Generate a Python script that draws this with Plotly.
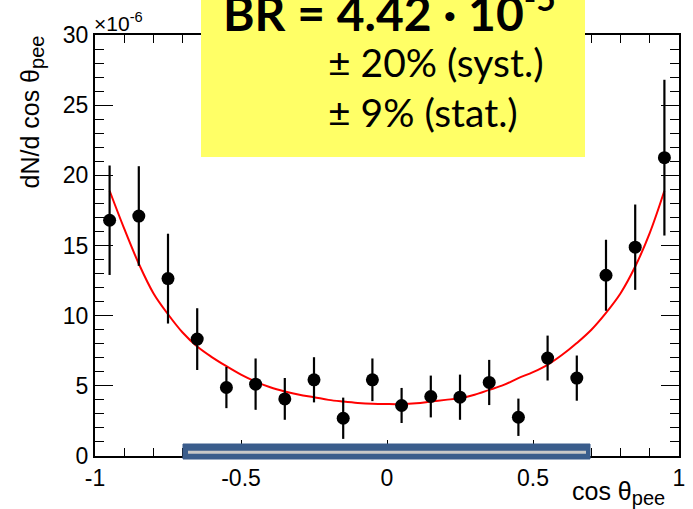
import plotly.graph_objects as go

# ---- data ----
cos_theta = [-0.95, -0.85, -0.75, -0.65, -0.55, -0.45, -0.35, -0.25, -0.15, -0.05,
             0.05, 0.15, 0.25, 0.35, 0.45, 0.55, 0.65, 0.75, 0.85, 0.95]
dn_dcos = [16.8, 17.1, 12.64, 8.33, 4.88, 5.12, 4.07, 5.43, 2.69, 5.43,
           3.6, 4.24, 4.19, 5.24, 2.76, 6.98, 5.55, 12.88, 14.88, 21.26]
dn_err = [3.9, 3.55, 3.2, 2.2, 1.47, 1.83, 1.49, 1.61, 1.47, 1.52,
          1.25, 1.49, 1.61, 1.61, 1.33, 1.6, 1.61, 2.53, 3.04, 5.55]

fit_x = [-0.95, -0.9, -0.85, -0.8, -0.75, -0.7, -0.65, -0.6, -0.55, -0.5,
         -0.45, -0.4, -0.35, -0.3, -0.25, -0.2, -0.15, -0.1, -0.05, 0.0,
         0.05, 0.1, 0.15, 0.2, 0.25, 0.3, 0.35, 0.4, 0.45, 0.5,
         0.55, 0.6, 0.65, 0.7, 0.75, 0.8, 0.85, 0.9, 0.95]
fit_y = [18.9, 16.2, 13.7, 11.6, 10.1, 8.8, 7.8, 7.05, 6.4, 5.8,
         5.3, 4.9, 4.6, 4.36, 4.19, 4.0, 3.88, 3.78, 3.72, 3.7,
         3.7, 3.76, 3.88, 4.0, 4.12, 4.36, 4.71, 5.07, 5.55, 5.98,
         6.5, 7.21, 8.05, 9.0, 10.2, 11.6, 13.5, 15.9, 18.9]

x_tickvals = [-1, -0.5, 0, 0.5, 1]
x_ticktext = ["-1", "-0.5", "0", "0.5", "1"]
y_tickvals = [0, 5, 10, 15, 20, 25, 30]
y_ticktext = ["0", "5", "10", "15", "20", "25", "30"]

AX_FONT = "Liberation Sans, Arial, sans-serif"
BOX_FONT = "Lato, Open Sans, sans-serif"

fig = go.Figure()

fig.add_trace(go.Scatter(
    x=fit_x, y=fit_y, mode="lines", line=dict(color="#ff0000", width=2, shape="spline"),
    hoverinfo="skip", showlegend=False))

fig.add_trace(go.Scatter(
    x=cos_theta, y=dn_dcos, mode="markers",
    marker=dict(color="black", size=13),
    error_y=dict(type="data", array=dn_err, color="black", thickness=2.2, width=0),
    showlegend=False))

W, H = 693, 509
L, R, T, B = 95, 14, 35, 53
PW, PH = W - L - R, H - T - B


def px(x):
    return (x - L) / PW


def py(y):
    return (H - B - y) / PH


fig.update_layout(
    width=W, height=H,
    margin=dict(l=L, r=R, t=T, b=B, autoexpand=False),
    paper_bgcolor="white", plot_bgcolor="white",
    showlegend=False,
    xaxis=dict(range=[-1, 1], tickvals=x_tickvals, ticktext=x_ticktext,
               ticks="inside", ticklen=16, tickwidth=1.2, tickcolor="black",
               showline=True, linecolor="black", linewidth=2, mirror="allticks",
               showgrid=False, zeroline=False, automargin=False,
               tickfont=dict(family=AX_FONT, size=23, color="black"),
               minor=dict(dtick=0.1, ticks="inside", ticklen=8, tickcolor="black",
                          tickwidth=1.2, showgrid=False)),
    yaxis=dict(range=[0, 30], tickvals=y_tickvals, ticktext=y_ticktext,
               ticks="inside", ticklen=18, tickwidth=1.2, tickcolor="black",
               showline=True, linecolor="black", linewidth=2, mirror="allticks",
               showgrid=False, zeroline=False, automargin=False,
               tickfont=dict(family=AX_FONT, size=23, color="black"),
               minor=dict(dtick=1, ticks="inside", ticklen=9, tickcolor="black",
                          tickwidth=1.2, showgrid=False)),
)

# yellow box
fig.add_shape(type="rect", xref="x domain", yref="y domain",
              x0=px(201), x1=px(585), y0=py(157), y1=py(-20),
              fillcolor="#ffff66", line=dict(width=0), layer="above")
# blue bar
fig.add_shape(type="rect", xref="x domain", yref="y domain",
              x0=px(183), x1=px(590), y0=py(459), y1=py(444),
              fillcolor="#3a5d8c", line=dict(color="#3a5d8c", width=1), layer="above")
fig.add_shape(type="line", xref="x domain", yref="y domain",
              x0=px(188), x1=px(586), y0=py(452.3), y1=py(452.3),
              line=dict(color="#c8c8c8", width=3), layer="above")

SUB = '<sub><span style="font-size:20px">pee</span></sub>'
ann = [
    dict(text="×10<sup>-6</sup>", x=px(92), y=py(37), xanchor="left", yanchor="bottom",
         font=dict(family=AX_FONT, size=21, color="black")),
    dict(text="dN/d cos θ" + SUB, x=px(31), y=py(34), xanchor="center", yanchor="top",
         textangle=-90, font=dict(family=AX_FONT, size=25, color="black")),
    dict(text="cos θ" + SUB, x=px(667), y=py(475), xanchor="right", yanchor="top",
         font=dict(family=AX_FONT, size=25, color="black")),
    dict(text="<b>BR = 4.42 · 10<sup>-5</sup></b>", x=px(221), y=py(9), xanchor="left",
         yanchor="middle", font=dict(family=BOX_FONT, size=48, color="black")),
    dict(text="± 20% (syst.)", x=px(326), y=py(62), xanchor="left", yanchor="middle",
         font=dict(family=BOX_FONT, size=39, color="black")),
    dict(text="± 9% (stat.)", x=px(326), y=py(112), xanchor="left", yanchor="middle",
         font=dict(family=BOX_FONT, size=39, color="black")),
]
for a in ann:
    fig.add_annotation(xref="x domain", yref="y domain", showarrow=False, **a)

fig.write_html("out.html", config={"displayModeBar": False},
               post_script="document.body.style.margin='0';document.body.style.overflow='hidden';")
